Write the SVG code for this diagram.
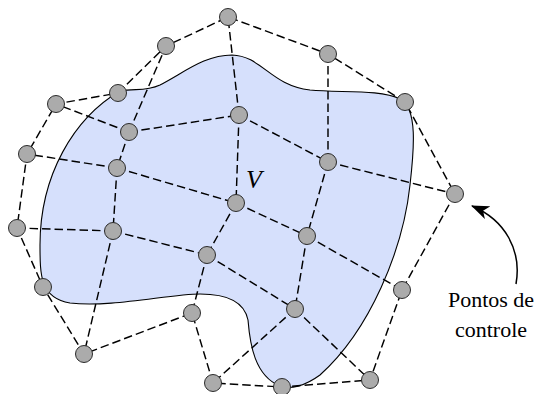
<svg xmlns="http://www.w3.org/2000/svg" width="538" height="394" viewBox="0 0 538 394">
<style>
.e{fill:none;stroke:#000;stroke-width:1.45;stroke-dasharray:8.5,4}
.n{fill:#ababab;stroke:#2b2b2b;stroke-width:1}
.t{font-family:"Liberation Serif",serif;font-size:22px;fill:#000}
</style>
<defs>
<marker id="ah" viewBox="0 0 18 14" refX="17" refY="7" markerWidth="18" markerHeight="14" markerUnits="userSpaceOnUse" orient="auto">
<path d="M0,0 L18,7 L0,14 L5,7 Z" fill="#000"/>
</marker>
</defs>
<path id="blob" d="M120,91 C135,88 145,92 160,85 C185,72 205,55 232,55 C262,56 270,85 310,90 C340,93 380,89 400,99 C418,108 414,150 410,185 C403,250 370,330 320,375 C305,386 290,390 280,386 C255,376 250,345 248,320 C244,300 225,294 200,294 C170,294 110,308 70,303 C40,298 40,275 40,245 C40,175 74,118 120,91 Z" fill="#d6e0fc" stroke="#000" stroke-width="1.1"/>
<g id="connectors">
<polygon class="e" points="118,93 166,46 228,17 328,54 405,102 455,194 402,290 370,380 282,387 213,383 192,313 84,354 43,287 17,228 27,154 56,104"/>
<line class="e" x1="129" y1="132" x2="166" y2="46"/>
<line class="e" x1="129" y1="132" x2="56" y2="104"/>
<line class="e" x1="239" y1="115" x2="228" y2="17"/>
<line class="e" x1="328" y1="162" x2="328" y2="54"/>
<line class="e" x1="328" y1="162" x2="455" y2="194"/>
<line class="e" x1="117" y1="168" x2="27" y2="154"/>
<line class="e" x1="113" y1="231" x2="17" y2="228"/>
<line class="e" x1="113" y1="231" x2="84" y2="354"/>
<line class="e" x1="207" y1="255" x2="192" y2="313"/>
<line class="e" x1="295" y1="309" x2="213" y2="383"/>
<line class="e" x1="295" y1="309" x2="370" y2="380"/>
<line class="e" x1="307" y1="236" x2="402" y2="290"/>
<line class="e" x1="129" y1="132" x2="239" y2="115"/>
<line class="e" x1="239" y1="115" x2="328" y2="162"/>
<line class="e" x1="117" y1="168" x2="236" y2="203"/>
<line class="e" x1="236" y1="203" x2="307" y2="236"/>
<line class="e" x1="113" y1="231" x2="207" y2="255"/>
<line class="e" x1="207" y1="255" x2="295" y2="309"/>
<line class="e" x1="129" y1="132" x2="117" y2="168"/>
<line class="e" x1="117" y1="168" x2="113" y2="231"/>
<line class="e" x1="239" y1="115" x2="236" y2="203"/>
<line class="e" x1="236" y1="203" x2="207" y2="255"/>
<line class="e" x1="328" y1="162" x2="307" y2="236"/>
<line class="e" x1="307" y1="236" x2="295" y2="309"/>
<path d="M516,284 C522,250 505,220 472,206" fill="none" stroke="#000" stroke-width="1.5" marker-end="url(#ah)"/>
</g>
<g id="nA"><circle class="n" cx="228" cy="17" r="8.5"/></g>
<g id="nB"><circle class="n" cx="166" cy="46" r="8.5"/></g>
<g id="nC"><circle class="n" cx="118" cy="93" r="8.5"/></g>
<g id="nD"><circle class="n" cx="56" cy="104" r="8.5"/></g>
<g id="nE"><circle class="n" cx="27" cy="154" r="8.5"/></g>
<g id="nF"><circle class="n" cx="17" cy="228" r="8.5"/></g>
<g id="nG"><circle class="n" cx="43" cy="287" r="8.5"/></g>
<g id="nH"><circle class="n" cx="84" cy="354" r="8.5"/></g>
<g id="nI"><circle class="n" cx="192" cy="313" r="8.5"/></g>
<g id="nJ"><circle class="n" cx="213" cy="383" r="8.5"/></g>
<g id="nK"><circle class="n" cx="282" cy="387" r="8.5"/></g>
<g id="nL"><circle class="n" cx="370" cy="380" r="8.5"/></g>
<g id="nM"><circle class="n" cx="402" cy="290" r="8.5"/></g>
<g id="nN"><circle class="n" cx="455" cy="194" r="8.5"/></g>
<g id="nO"><circle class="n" cx="405" cy="102" r="8.5"/></g>
<g id="nP"><circle class="n" cx="328" cy="54" r="8.5"/></g>
<g id="nQ"><circle class="n" cx="129" cy="132" r="8.5"/></g>
<g id="nR"><circle class="n" cx="117" cy="168" r="8.5"/></g>
<g id="nS"><circle class="n" cx="239" cy="115" r="8.5"/></g>
<g id="nT"><circle class="n" cx="328" cy="162" r="8.5"/></g>
<g id="nU"><circle class="n" cx="113" cy="231" r="8.5"/></g>
<g id="nV"><circle class="n" cx="236" cy="203" r="8.5"/><text x="246" y="188" style="font-family:'Liberation Serif',serif;font-style:italic;font-size:26px">V</text></g>
<g id="nW"><circle class="n" cx="207" cy="255" r="8.5"/></g>
<g id="nY"><circle class="n" cx="307" cy="236" r="8.5"/></g>
<g id="nZ"><circle class="n" cx="295" cy="309" r="8.5"/></g>
<g id="label">
<text class="t" x="491" y="307" text-anchor="middle">Pontos de</text>
<text class="t" x="491" y="337" text-anchor="middle">controle</text>
</g>
</svg>
